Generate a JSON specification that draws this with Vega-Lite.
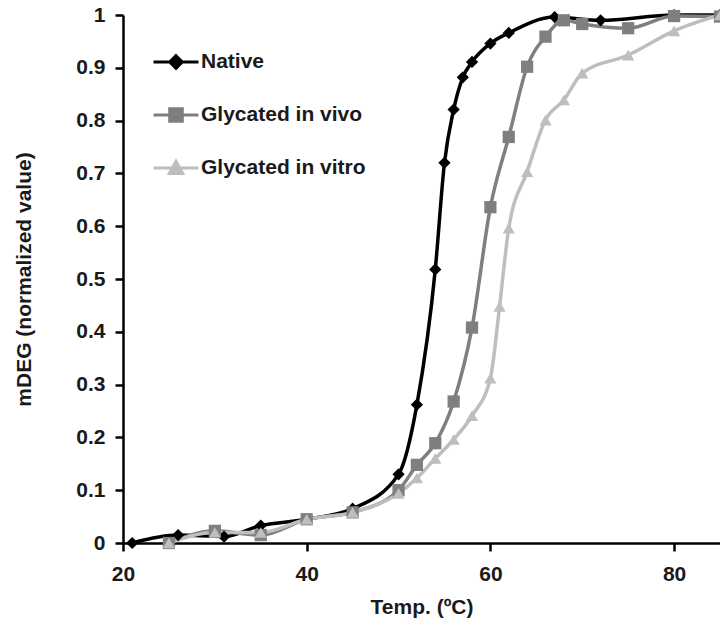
{
  "$schema": "https://vega.github.io/schema/vega-lite/v6.json",
  "autosize": "none",
  "width": 597,
  "height": 528,
  "padding": {"left": 123, "top": 15, "right": 0, "bottom": 94},
  "background": "white",
  "config": {
    "view": {"stroke": null},
    "font": "Liberation Sans",
    "axis": {
      "grid": false,
      "domainColor": "#000000",
      "domainWidth": 2.5,
      "tickColor": "#000000",
      "tickWidth": 2.5,
      "tickSize": 8,
      "labelFont": "Liberation Sans",
      "labelFontWeight": "bold",
      "labelFontSize": 21,
      "labelColor": "#1a1a1a",
      "titleFont": "Liberation Sans",
      "titleFontWeight": "bold",
      "titleFontSize": 21,
      "titleColor": "#1a1a1a"
    }
  },
  "data": {
    "values": [
      {"series": "Native", "temp": 21, "value": 0.0},
      {"series": "Native", "temp": 26, "value": 0.015},
      {"series": "Native", "temp": 31, "value": 0.012},
      {"series": "Native", "temp": 35, "value": 0.033},
      {"series": "Native", "temp": 40, "value": 0.045},
      {"series": "Native", "temp": 45, "value": 0.065},
      {"series": "Native", "temp": 50, "value": 0.13},
      {"series": "Native", "temp": 52, "value": 0.262},
      {"series": "Native", "temp": 54, "value": 0.518},
      {"series": "Native", "temp": 55, "value": 0.72},
      {"series": "Native", "temp": 56, "value": 0.821},
      {"series": "Native", "temp": 57, "value": 0.882},
      {"series": "Native", "temp": 58, "value": 0.911},
      {"series": "Native", "temp": 60, "value": 0.946},
      {"series": "Native", "temp": 62, "value": 0.966},
      {"series": "Native", "temp": 67, "value": 0.996},
      {"series": "Native", "temp": 72, "value": 0.99},
      {"series": "Native", "temp": 80, "value": 1.0},
      {"series": "Native", "temp": 85, "value": 1.0},
      {"series": "Glycated in vivo", "temp": 25, "value": 0.0},
      {"series": "Glycated in vivo", "temp": 30, "value": 0.023},
      {"series": "Glycated in vivo", "temp": 35, "value": 0.015},
      {"series": "Glycated in vivo", "temp": 40, "value": 0.045},
      {"series": "Glycated in vivo", "temp": 45, "value": 0.058},
      {"series": "Glycated in vivo", "temp": 50, "value": 0.1},
      {"series": "Glycated in vivo", "temp": 52, "value": 0.148},
      {"series": "Glycated in vivo", "temp": 54, "value": 0.189},
      {"series": "Glycated in vivo", "temp": 56, "value": 0.268},
      {"series": "Glycated in vivo", "temp": 58, "value": 0.408},
      {"series": "Glycated in vivo", "temp": 60, "value": 0.636},
      {"series": "Glycated in vivo", "temp": 62, "value": 0.769},
      {"series": "Glycated in vivo", "temp": 64, "value": 0.902},
      {"series": "Glycated in vivo", "temp": 66, "value": 0.959},
      {"series": "Glycated in vivo", "temp": 68, "value": 0.99},
      {"series": "Glycated in vivo", "temp": 70, "value": 0.983},
      {"series": "Glycated in vivo", "temp": 75, "value": 0.975},
      {"series": "Glycated in vivo", "temp": 80, "value": 0.998},
      {"series": "Glycated in vivo", "temp": 85, "value": 0.997},
      {"series": "Glycated in vitro", "temp": 25, "value": 0.0},
      {"series": "Glycated in vitro", "temp": 30, "value": 0.02},
      {"series": "Glycated in vitro", "temp": 35, "value": 0.02},
      {"series": "Glycated in vitro", "temp": 40, "value": 0.045},
      {"series": "Glycated in vitro", "temp": 45, "value": 0.058},
      {"series": "Glycated in vitro", "temp": 50, "value": 0.094},
      {"series": "Glycated in vitro", "temp": 52, "value": 0.123},
      {"series": "Glycated in vitro", "temp": 54, "value": 0.16},
      {"series": "Glycated in vitro", "temp": 56, "value": 0.196},
      {"series": "Glycated in vitro", "temp": 58, "value": 0.241},
      {"series": "Glycated in vitro", "temp": 60, "value": 0.312},
      {"series": "Glycated in vitro", "temp": 61, "value": 0.448},
      {"series": "Glycated in vitro", "temp": 62, "value": 0.596},
      {"series": "Glycated in vitro", "temp": 64, "value": 0.703},
      {"series": "Glycated in vitro", "temp": 66, "value": 0.801},
      {"series": "Glycated in vitro", "temp": 68, "value": 0.839},
      {"series": "Glycated in vitro", "temp": 70, "value": 0.89},
      {"series": "Glycated in vitro", "temp": 75, "value": 0.924},
      {"series": "Glycated in vitro", "temp": 80, "value": 0.97},
      {"series": "Glycated in vitro", "temp": 85, "value": 1.0}
    ]
  },
  "encoding": {
    "x": {
      "field": "temp", "type": "quantitative",
      "scale": {"domain": [20, 85], "nice": false, "zero": false},
      "axis": {"title": "Temp. (ºC)", "values": [20, 40, 60, 80], "labelPadding": 12, "titlePadding": 12, "labelFlush": false}
    },
    "y": {
      "field": "value", "type": "quantitative",
      "scale": {"domain": [0, 1], "nice": false},
      "axis": {"title": "mDEG (normalized value)", "values": [0, 0.1, 0.2, 0.3, 0.4, 0.5, 0.6, 0.7, 0.8, 0.9, 1], "labelExpr": "format(datum.value, '.1~f')", "labelPadding": 10, "titlePadding": 41, "labelFlush": false}
    }
  },
  "layer": [
    {
      "mark": {"type": "line", "interpolate": "monotone", "strokeWidth": 3.5},
      "encoding": {
        "color": {
          "field": "series", "type": "nominal",
          "scale": {"domain": ["Native", "Glycated in vivo", "Glycated in vitro"], "range": ["#000000", "#7f7f7f", "#bebebe"]},
          "legend": {
            "title": null,
            "orient": "none",
            "legendX": 29,
            "legendY": 23,
            "padding": 0,
            "symbolSize": 2025,
            "symbolStrokeWidth": 3,
            "rowPadding": 16,
            "labelOffset": 1,
            "labelLimit": 0,
            "labelFont": "Liberation Sans",
            "labelFontWeight": "bold",
            "labelFontSize": 21,
            "labelColor": "#1a1a1a",
            "encode": {
              "symbols": {
                "update": {
                  "shape": {"signal": "datum.value === 'Native' ? 'M-1,0H1M0,-0.28L0.28,0L0,0.28L-0.28,0Z' : datum.value === 'Glycated in vivo' ? 'M-1,0H1M-0.28,-0.28H0.28V0.28H-0.28Z' : 'M-1,0H1M0,-0.3L0.3,0.24H-0.3Z'"},
                  "fill": {"signal": "scale('color', datum.value)"},
                  "stroke": {"signal": "scale('color', datum.value)"},
                  "strokeWidth": {"value": 3},
                  "opacity": {"value": 1}
                }
              }
            }
          }
        }
      }
    },
    {
      "mark": {"type": "point", "filled": true, "size": 150, "opacity": 1},
      "encoding": {
        "color": {
          "field": "series", "type": "nominal",
          "legend": null
        },
        "shape": {
          "field": "series", "type": "nominal",
          "scale": {"range": ["triangle-up", "square", "diamond"]},
          "legend": null
        }
      }
    }
  ]
}
